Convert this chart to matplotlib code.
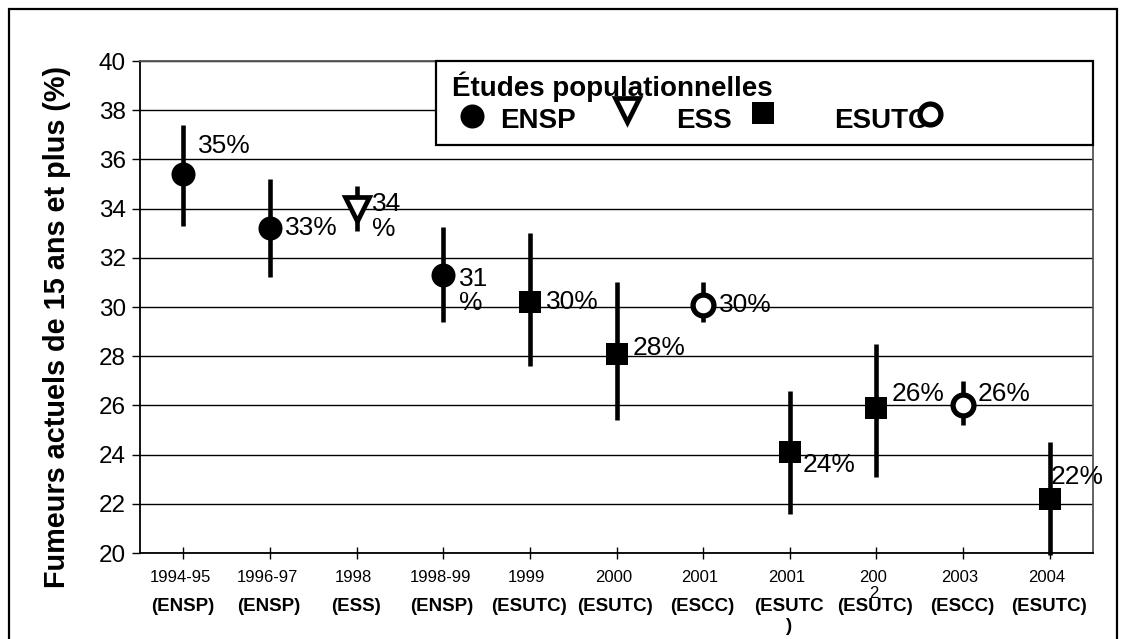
import matplotlib
matplotlib.use("Agg")
import matplotlib.pyplot as plt
from matplotlib.patches import Rectangle
from matplotlib.lines import Line2D

plt.rcParams['font.family'] = ['Liberation Sans', 'DejaVu Sans']

# ---------------- data ----------------
years = ['1994-95', '1996-97', '1998', '1998-99', '1999', '2000',
         '2001', '2001', '200\n2', '2003', '2004']
survey_labels = ['(ENSP)', '(ENSP)', '(ESS)', '(ENSP)', '(ESUTC)', '(ESUTC)',
                 '(ESCC)', '(ESUTC\n)', '(ESUTC)', '(ESCC)', '(ESUTC)']
survey_type = ['ENSP', 'ENSP', 'ESS', 'ENSP', 'ESUTC', 'ESUTC',
               'ESCC', 'ESUTC', 'ESUTC', 'ESCC', 'ESUTC']
values = [35.4, 33.2, 34.0, 31.3, 30.2, 28.1, 30.1, 24.1, 25.9, 26.0, 22.2]
lower = [33.3, 31.2, 33.1, 29.4, 27.6, 25.4, 29.4, 21.6, 23.1, 25.2, 19.9]
upper = [37.4, 35.2, 34.9, 33.25, 33.0, 31.0, 31.0, 26.6, 28.5, 27.0, 24.5]
value_labels = ['35%', '33%', '34\n%', '31\n%', '30%', '28%', '30%',
                '24%', '26%', '26%', '22%']
ylabel = 'Fumeurs actuels de 15 ans et plus (%)'
legend_title = 'Études populationnelles'
legend_names = ['ENSP', 'ESS', 'ESUTC']

# ---------------- styles / positions ----------------
W, H = 1129, 639
label_offsets = [(15, 28), (15, 0), (15, -8), (16, -16), (16, 0), (16, 6),
                 (16, 0), (13, -13), (15, 14), (15, 11), (1, 22)]
marker_style = {
    'ENSP': dict(marker='o', ms=17.3, mfc='black', mec='black', mew=0),
    'ESS': dict(marker='v', ms=17.5, mfc='white', mec='black', mew=3.4),
    'ESUTC': dict(marker='s', ms=15.8, mfc='black', mec='black', mew=0),
    'ESCC': dict(marker='o', ms=15.0, mfc='white', mec='black', mew=3.8),
}


def fx(x):
    return x / W


def fy(y):
    return 1 - y / H


fig = plt.figure(figsize=(W / 100, H / 100), dpi=100)
fig.patch.set_facecolor('white')

# outer frame
fig.add_artist(Rectangle((fx(9), fy(700)), fx(1117) - fx(9), fy(9) - fy(700),
                         transform=fig.transFigure, fill=False,
                         edgecolor='black', lw=1.6, zorder=0.5))

ax = fig.add_axes([fx(140), fy(553), fx(1093) - fx(140), fy(61) - fy(553)])
ax.set_xlim(0.5, 11.5)
ax.set_ylim(20, 40)
ax.set_yticks(range(20, 41, 2))
ax.yaxis.grid(True, color='black', lw=1.0)
ax.set_axisbelow(True)
ax.tick_params(axis='y', labelsize=17.5, direction='out', length=6,
               width=1.0, pad=4)
ax.set_xticks(range(1, len(values) + 1))
ax.set_xticklabels([])
ax.tick_params(axis='x', direction='inout', length=9, width=1.0)
for s in ['left', 'bottom']:
    ax.spines[s].set_color('black')
    ax.spines[s].set_linewidth(1.3)
for s in ['top', 'right']:
    ax.spines[s].set_color('#555555')
    ax.spines[s].set_linewidth(1.3)

xs = list(range(1, len(values) + 1))

# error bars
ax.vlines(xs, lower, upper, color='black', lw=3.3, zorder=3, clip_on=False)

# markers
for x, v, t in zip(xs, values, survey_type):
    ax.plot([x], [v], linestyle='none', zorder=4, **marker_style[t])

# value labels
for x, v, lab, (dx, dy) in zip(xs, values, value_labels, label_offsets):
    ax.annotate(lab, xy=(x, v), xytext=(dx, dy), textcoords='offset pixels',
                ha='left', va='center', fontsize=19, linespacing=1.05,
                zorder=5)

# x category labels (two rows)
for x, yr, sv in zip(xs, years, survey_labels):
    ax.annotate(yr, xy=(x, 0), xycoords=('data', 'axes fraction'),
                xytext=(-3, -17), textcoords='offset pixels',
                ha='center', va='top', fontsize=12, linespacing=1.05,
                annotation_clip=False)
    ax.annotate(sv, xy=(x, 0), xycoords=('data', 'axes fraction'),
                xytext=(-1, -45), textcoords='offset pixels',
                ha='center', va='top', fontsize=13.5, fontweight='bold',
                linespacing=1.2, annotation_clip=False)

# y label
fig.text(fx(57), fy(327), ylabel, rotation=90, ha='center', va='center',
         fontsize=20.8, fontweight='bold')

# legend box
fig.add_artist(Rectangle((fx(436), fy(145)), fx(1093) - fx(436),
                         fy(61) - fy(145), transform=fig.transFigure,
                         facecolor='white', edgecolor='black', lw=1.6,
                         zorder=2))
fig.text(fx(452), fy(96), legend_title, ha='left', va='baseline',
         fontsize=20, fontweight='bold', zorder=3)
leg_items = [('ENSP', 472, 116, 500), ('ESS', 627, 110, 676),
             ('ESUTC', 763, 113, 834)]
for (t, mx, my, tx), name in zip(leg_items, legend_names):
    fig.add_artist(Line2D([fx(mx)], [fy(my)], transform=fig.transFigure,
                          linestyle='none', zorder=3, **marker_style[t]))
    fig.text(fx(tx), fy(128), name, ha='left', va='baseline', fontsize=20,
             fontweight='bold', zorder=3)
fig.add_artist(Line2D([fx(930)], [fy(114)], transform=fig.transFigure,
                      linestyle='none', zorder=4, **marker_style['ESCC']))

fig.savefig('out.png', dpi=100, facecolor='white')
